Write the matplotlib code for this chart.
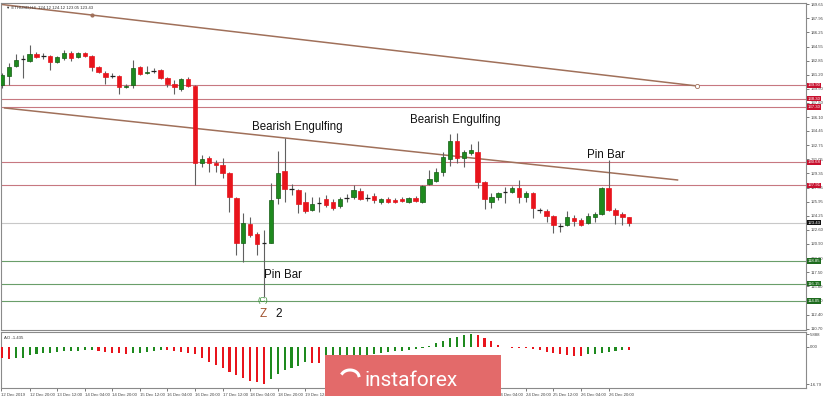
import numpy as np
import matplotlib.pyplot as plt
import matplotlib.transforms as mtransforms
from matplotlib.patches import Rectangle

plt.rcParams['font.family'] = ['Liberation Sans', 'DejaVu Sans']

# ETHUSD H4, bar index counted in 4h steps from 12 Dec 2019 00:00
bars = np.arange(1, 93)
opens = [139.94, 141.02, 142.22, 142.98, 142.82, 143.66, 143.40, 143.42, 142.70, 143.18,
         143.78, 143.30, 143.78, 143.42, 142.10, 141.38, 141.05, 141.02, 139.70, 139.94,
         142.10, 141.38, 141.60, 141.74, 140.80, 140.06, 139.46, 140.66, 139.82, 130.60,
         131.20, 130.60, 130.36, 129.40, 126.40, 121.01, 123.29, 122.09, 121.00, 121.01,
         126.40, 129.64, 127.50, 127.36, 125.92, 124.96, 125.80, 126.28, 125.92, 125.44,
         126.40, 126.52, 127.24, 126.45, 126.64, 125.92, 126.28, 126.16, 126.28, 125.92,
         126.40, 125.92, 128.08, 128.44, 129.52, 131.08, 133.23, 131.20, 131.80, 131.91,
         128.32, 125.92, 126.52, 127.10, 127.12, 127.60, 126.52, 127.00, 124.96, 124.84,
         124.25, 123.07, 123.17, 124.01, 123.77, 123.41, 124.13, 124.49, 127.60, 124.96,
         124.49, 124.12]
highs = [141.38, 142.58, 143.66, 143.54, 144.74, 143.90, 143.78, 143.54, 143.42, 144.14,
         144.02, 143.90, 143.90, 143.54, 142.22, 141.62, 141.38, 141.14, 140.06, 142.94,
         142.22, 142.22, 141.98, 141.86, 140.90, 140.54, 140.80, 140.90, 139.94, 131.56,
         131.44, 130.96, 131.20, 129.52, 126.52, 124.60, 124.13, 122.33, 122.57, 128.20,
         132.03, 133.59, 128.08, 127.48, 127.12, 126.52, 126.52, 126.76, 126.28, 126.52,
         126.88, 128.00, 127.60, 126.88, 127.00, 126.40, 126.52, 126.40, 126.52, 126.52,
         126.64, 127.96, 129.76, 130.00, 131.91, 134.07, 134.19, 132.15, 132.87, 133.23,
         128.44, 127.00, 127.12, 127.72, 127.84, 128.56, 127.24, 127.12, 125.20, 125.08,
         124.37, 123.41, 124.84, 124.37, 124.01, 124.60, 124.72, 127.72, 130.96, 125.20,
         124.72, 124.12]
lows = [139.58, 139.94, 142.10, 140.80, 142.70, 143.18, 143.06, 141.74, 142.58, 142.94,
        142.82, 143.18, 143.30, 141.62, 141.38, 140.06, 140.80, 138.87, 139.58, 139.58,
        141.14, 141.26, 141.38, 140.66, 139.70, 138.87, 139.22, 139.70, 127.96, 130.12,
        129.52, 129.52, 128.80, 124.72, 119.57, 118.73, 121.73, 119.57, 114.54, 121.01,
        125.68, 125.92, 126.76, 124.60, 124.60, 124.84, 124.72, 125.32, 124.96, 125.20,
        125.92, 126.28, 126.16, 126.04, 125.80, 125.68, 125.80, 125.80, 125.92, 125.80,
        125.92, 125.80, 127.96, 128.32, 129.04, 130.24, 130.60, 130.12, 131.56, 127.60,
        125.08, 125.20, 126.16, 125.80, 127.00, 125.80, 125.92, 124.01, 124.60, 123.53,
        122.21, 122.33, 123.05, 123.05, 123.05, 123.29, 123.53, 124.37, 124.84, 123.29,
        123.17, 123.05]
closes = [141.14, 142.10, 142.94, 143.04, 143.66, 143.30, 143.36, 142.70, 143.30, 143.78,
          143.18, 143.78, 143.42, 142.10, 141.50, 140.90, 141.00, 139.70, 139.82, 141.98,
          141.26, 141.50, 141.64, 140.80, 140.06, 139.70, 140.66, 139.82, 130.60, 131.08,
          130.60, 130.36, 129.40, 126.52, 121.01, 123.41, 121.97, 120.89, 120.98, 126.16,
          129.40, 127.48, 127.45, 125.68, 124.84, 125.68, 125.82, 125.56, 125.20, 126.28,
          126.45, 127.36, 126.28, 126.40, 126.16, 126.28, 125.92, 125.92, 126.04, 126.40,
          126.04, 127.84, 128.68, 129.52, 131.32, 133.23, 131.20, 131.91, 132.15, 128.32,
          126.28, 126.52, 127.00, 127.14, 127.60, 126.52, 127.00, 125.20, 124.98, 124.25,
          123.17, 123.05, 124.13, 123.65, 123.17, 124.25, 124.49, 127.60, 124.96, 124.37,
          124.13, 123.43]

ao_values = [-4.8, -5.4, -5.1, -4.8, -3.6, -3.2, -2.9, -2.6, -2.2, -1.9,
             -1.8, -1.6, -1.5, -1.2, -1.6, -2.2, -2.6, -2.9, -3.2, -2.9,
             -2.6, -2.2, -1.8, -1.4, -1.5, -1.9, -2.2, -2.5, -3.4, -5.0,
             -6.6, -8.0, -9.6, -11.2, -12.6, -14.0, -15.2, -16.1, -16.79, -14.6,
             -12.2, -10.6, -9.6, -8.6, -7.0, -7.2, -7.4, -6.6, -5.9, -5.3,
             -5.1, -4.8, -4.4, -3.9, -3.3, -2.9, -2.4, -1.9, -1.6, -1.2,
             -0.8, -0.4, 0.3, 1.8, 2.7, 4.0, 4.7, 5.4, 5.888, 5.4,
             4.0, 2.5, 1.1, -0.2, -0.4, -0.5, -0.6, -0.8, -1.3, -2.2,
             -2.9, -3.3, -3.7, -4.0, -4.1, -3.4, -3.0, -2.5, -2.2, -1.8,
             -1.3, -1.435]

red_levels = [139.90, 138.30, 137.30, 130.68, 127.91]
green_levels = [118.85, 116.15, 114.05]
last_price = 123.43

upper_trend = [(14.0, 148.33), (101.8, 139.83)]
lower_trend = [(1.37, 137.19), (99.0, 128.56)]

price_ticks = ["149.65", "147.95", "146.25", "144.55", "142.85", "141.20", "139.50", "137.80",
               "136.10", "134.45", "132.75", "131.05", "129.35", "127.65", "125.95", "124.25",
               "122.60", "120.90", "119.20", "117.50", "115.80", "114.10", "112.40", "110.70"]
ao_ticks = ["5.888", "0.00", "-16.79"]

time_pos = [0.85, 5, 9, 13, 17, 21, 25, 29, 33, 37, 41, 45, 49, 53, 57, 61, 65, 69, 73, 77, 81, 85, 89]
time_labels = ["12 Dec 2019", "12 Dec 20:00", "13 Dec 12:00", "14 Dec 04:00", "14 Dec 20:00",
               "15 Dec 12:00", "16 Dec 04:00", "16 Dec 20:00", "17 Dec 12:00", "18 Dec 04:00",
               "18 Dec 20:00", "19 Dec 12:00", "20 Dec 04:00", "20 Dec 20:00", "21 Dec 12:00",
               "22 Dec 04:00", "22 Dec 20:00", "23 Dec 12:00", "24 Dec 04:00", "24 Dec 20:00",
               "25 Dec 12:00", "26 Dec 04:00", "26 Dec 20:00"]

W, H = 823, 396
GREEN = '#1e8a1e'
RED = '#e8141c'
SMALL = 3.1


def rect(x0, y0, x1, y1):
    return [x0 / W, 1 - y1 / H, (x1 - x0) / W, (y1 - y0) / H]


def ypix(y):
    # price at a pixel row of the main panel
    return 150.13 - 0.11983 * y


fig = plt.figure(figsize=(W / 100, H / 100), dpi=100)
ax = fig.add_axes(rect(1, 3, 806, 330))
ao_ax = fig.add_axes(rect(1, 332, 806, 388))
xlim = (0.85, 117.64)

# candles
o = np.array(opens); c = np.array(closes)
hi = np.array(highs); lo = np.array(lows)
ax.vlines(bars, lo, hi, color='#606060', lw=0.8, zorder=3)
body = np.abs(c - o)
doji = body < 0.1
up = c >= o
cols = np.where(up, GREEN, RED)
ax.bar(bars[~doji], body[~doji], bottom=np.minimum(o, c)[~doji], width=0.64,
       color=cols[~doji], edgecolor=np.where(up, '#145c14', RED)[~doji], lw=0.5, zorder=4)
ax.hlines(c[doji], bars[doji] - 0.32, bars[doji] + 0.32, color='#222222', lw=0.9, zorder=4)

# levels
for lv in red_levels:
    ax.axhline(lv, color='#c77880', lw=0.8, zorder=1)
for lv in green_levels:
    ax.axhline(lv, color='#6a9e6a', lw=0.8, zorder=1)
ax.axhline(last_price, color='#c8c8c8', lw=0.8, zorder=1)

# trend lines
for (x0, y0), (x1, y1), start in [(upper_trend[0], upper_trend[1], xlim[0]),
                                  (lower_trend[0], lower_trend[1], lower_trend[0][0])]:
    slope = (y1 - y0) / (x1 - x0)
    ax.plot([start, x1], [y0 + slope * (start - x0), y1], color='#a0705a', lw=1.1, zorder=2)
ax.plot(*upper_trend[0], marker='o', ms=2, color='#a0705a', zorder=2)
ax.plot(*upper_trend[1], marker='o', ms=3, mfc='white', mec='#a0705a', mew=0.6, zorder=2)

ax.set_xlim(*xlim)
ax.set_ylim(110.58, 149.77)

tf = mtransforms.blended_transform_factory(ax.transAxes, ax.transData)
boxes = [(lv, '#c8102e') for lv in red_levels] + [(lv, '#1e6b1e') for lv in green_levels] + \
        [(last_price, '#111111')]
for lv, fc in boxes:
    ax.text(1.002, lv, f"{lv:.2f}", transform=tf, fontsize=SMALL, color='white', va='center',
            ha='left', bbox=dict(boxstyle='square,pad=0.15', fc=fc, ec='none'), zorder=6)

ax.yaxis.tick_right()
ax.set_yticks([float(t) for t in price_ticks])
ax.set_yticklabels(price_ticks)
ax.tick_params(axis='y', labelsize=SMALL, length=2, pad=1, colors='#444444', width=0.5)
ax.set_xticks([])

# annotations
ann = dict(fontsize=8.3, color='#111111', va='center', ha='left')
ax.text(37.3, ypix(127), "Bearish Engulfing", **ann)
ax.text(60.2, ypix(120), "Bearish Engulfing", **ann)
ax.text(85.9, ypix(155), "Pin Bar", **ann)
ax.text(39.0, ypix(275), "Pin Bar", **ann)
ax.text(38.9, ypix(301), "(C)", fontsize=5.5, color='#2e8b2e', ha='center', va='center')
ax.text(38.9, ypix(314), "Z", fontsize=8.5, color='#a0522d', ha='center', va='center')
ax.text(40.7, ypix(314), "2", fontsize=8.5, color='#111111', ha='left', va='center')
ax.text(0.006, 0.993, "\u25bc ETHUSD,H4  124.12 124.12 123.05 123.43", transform=ax.transAxes,
        fontsize=SMALL, color='#333333', va='top', ha='left')

# awesome oscillator
aov = np.array(ao_values)
prev = np.concatenate([[aov[0] + 1], aov[:-1]])
ao_cols = np.where(aov > prev, GREEN, RED)
ao_ax.bar(bars, aov, width=0.3, color=ao_cols, zorder=3)
ao_ax.set_xlim(*xlim)
ao_ax.set_ylim(-18.6, 6.8)
ao_ax.yaxis.tick_right()
ao_ax.set_yticks([float(t) for t in ao_ticks])
ao_ax.set_yticklabels(ao_ticks)
ao_ax.tick_params(axis='y', labelsize=SMALL, length=2, pad=1, colors='#444444', width=0.5)
ao_ax.set_xticks(time_pos)
ao_ax.set_xticklabels(time_labels, ha='left')
ao_ax.tick_params(axis='x', labelsize=SMALL, length=2, pad=1.5, colors='#444444', width=0.5)
ao_ax.text(0.004, 0.93, "AO -1.435", transform=ao_ax.transAxes, fontsize=SMALL, color='#333333',
           va='top', ha='left')

for a in (ax, ao_ax):
    for s in a.spines.values():
        s.set_color('#8a8a8a')
        s.set_linewidth(0.8)

# watermark
fig.patches.append(Rectangle((325 / W, 0), 176 / W, 41 / H, transform=fig.transFigure,
                             fc='#e36a6a', ec='none', zorder=10))
t = np.linspace(0.2, 2.6, 30)
fig.lines.append(plt.Line2D((350 + 9 * np.cos(t)) / W, (H - 377 + 7 * np.sin(t)) / H,
                            transform=fig.transFigure, color='white', lw=2.2, zorder=11))
fig.text(411 / W, 1 - 380 / H, "instaforex", color='white', fontsize=15, family='Roboto',
         ha='center', va='center', zorder=11)

fig.savefig('out.png', dpi=100, facecolor='white')
